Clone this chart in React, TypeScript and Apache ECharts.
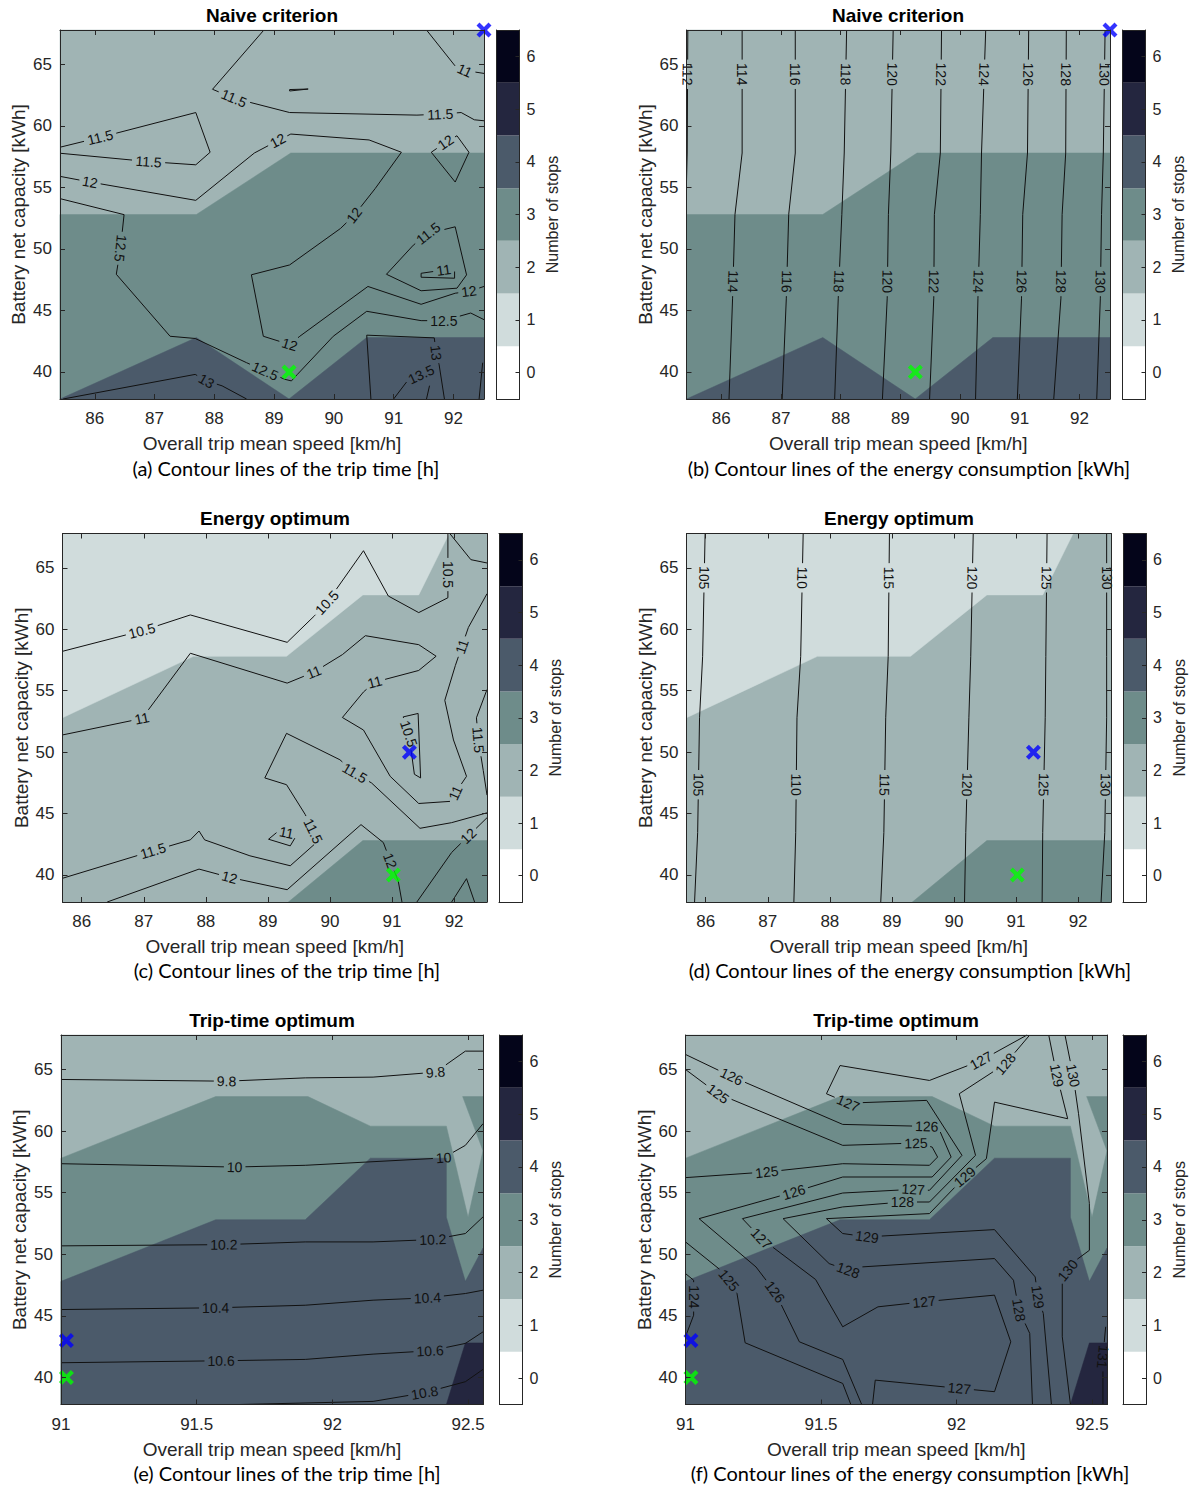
import React, { useEffect, useRef } from "react";
import * as echarts from "echarts";

type Pt = [number, number];
interface Region { stops: number; pts: Pt[] }
interface Contour { level: string; pts: Pt[]; labels: Pt[] }

// ---------- colour scale (number of stops) ----------
const STOP_LEVELS = ["0", "1", "2", "3", "4", "5", "6"];
const STOP_COLORS = ["#ffffff", "#d0dcdc", "#a0b4b4", "#6e8c8a", "#4b5a6a", "#24263f", "#04051a"];

// ---------- axes ----------
const Y_RANGE: Pt = [37.8, 67.8];
const X_RANGE_NAIVE: Pt = [85.418, 92.512];
const X_RANGE_ENERGY: Pt = [85.69, 92.53];
const X_RANGE_TRIP: Pt = [91.0, 92.555];
const X_TICKS_WIDE = [86, 87, 88, 89, 90, 91, 92];
const X_TICKS_TRIP = [91, 91.5, 92, 92.5];
const Y_TICKS = [40, 45, 50, 55, 60, 65];

// ---------- filled regions ----------
const REGIONS_NAIVE: Region[] = [
  { stops: 2, pts: [[85.418, 37.8], [85.418, 67.8], [92.512, 67.8], [92.512, 37.8]] },
  { stops: 3, pts: [[85.418, 37.8], [85.418, 52.8], [87.7, 52.8], [89.28, 57.8], [92.512, 57.8], [92.512, 37.8]] },
  { stops: 4, pts: [[85.418, 37.8], [87.7, 42.8], [89.25, 37.8]] },
  { stops: 4, pts: [[89.25, 37.8], [90.55, 42.8], [92.512, 42.8], [92.512, 37.8]] },
];
const REGIONS_ENERGY: Region[] = [
  { stops: 2, pts: [[85.69, 37.8], [85.69, 67.8], [92.53, 67.8], [92.53, 37.8]] },
  { stops: 1, pts: [[85.69, 67.8], [85.69, 52.8], [87.8, 57.8], [89.3, 57.8], [90.53, 62.8], [91.43, 62.8], [91.92, 67.8]] },
  { stops: 3, pts: [[89.33, 37.8], [90.53, 42.8], [92.53, 42.8], [92.53, 37.8]] },
];
const REGIONS_TRIP: Region[] = [
  { stops: 2, pts: [[91.0, 37.8], [91.0, 67.8], [92.555, 67.8], [92.555, 37.8]] },
  { stops: 3, pts: [[91.0, 37.8], [91.0, 57.8], [91.57, 62.8], [91.91, 62.8], [92.14, 60.4], [92.42, 60.4], [92.5, 53.0], [92.555, 58.4], [92.555, 37.8]] },
  { stops: 3, pts: [[92.48, 62.8], [92.555, 62.8], [92.555, 58.4]] },
  { stops: 4, pts: [[91.0, 37.8], [91.0, 47.8], [91.57, 52.8], [91.9, 52.8], [92.14, 57.8], [92.42, 57.8], [92.42, 53.0], [92.49, 47.8], [92.555, 50.5], [92.555, 37.8]] },
  { stops: 5, pts: [[92.42, 37.8], [92.49, 42.8], [92.555, 42.8], [92.555, 37.8]] },
];

// ---------- contour lines ----------
const CONTOURS_A: Contour[] = [
  { level: "11", pts: [[91.55, 67.8], [92.03, 64.87], [92.19, 64.51], [92.512, 64.27]], labels: [[92.19, 64.51]] },
  { level: "11.5", pts: [[88.83, 67.8], [87.97, 62.98], [88.33, 62.25], [89.26, 61.09], [91.39, 60.88], [91.78, 60.96], [92.13, 61.09], [92.35, 60.5], [92.512, 60.42]], labels: [[88.33, 62.25], [91.78, 60.96]] },
  { level: "11.5", pts: [[85.418, 58.27], [86.09, 59.07], [87.69, 61.09], [87.93, 57.86], [87.69, 56.84], [86.9, 57.1], [85.418, 57.78]], labels: [[86.09, 59.07], [86.9, 57.1]] },
  { level: "11.5", pts: [[89.26, 62.96], [89.57, 63.0], [89.26, 62.84], [89.26, 62.96]], labels: [] },
  { level: "12", pts: [[85.418, 55.9], [85.92, 55.44], [87.69, 53.95], [88.67, 57.8], [89.06, 58.8], [89.28, 59.34], [90.59, 58.86], [91.13, 57.86], [90.69, 54.9], [90.34, 52.74], [90.11, 51.66], [89.26, 48.7], [88.62, 47.9], [88.82, 42.9], [89.26, 42.23], [89.43, 42.9], [90.57, 46.95], [91.46, 45.5], [92.03, 46.4], [92.26, 46.55], [92.512, 46.95]], labels: [[85.92, 55.44], [89.06, 58.8], [90.34, 52.74], [89.26, 42.23], [92.26, 46.55]] },
  { level: "12", pts: [[91.63, 57.86], [91.87, 58.67], [92.06, 59.2], [92.26, 57.86], [92.03, 55.44], [91.63, 57.86]], labels: [[91.87, 58.67]] },
  { level: "11.5", pts: [[90.88, 47.94], [91.33, 50.31], [91.58, 51.26], [92.03, 51.8], [92.22, 47.89], [92.06, 46.81], [91.46, 46.6], [90.88, 47.94]], labels: [[91.58, 51.26]] },
  { level: "11", pts: [[91.46, 48.02], [91.84, 48.29], [92.02, 48.16], [92.02, 47.62], [91.46, 47.7], [91.46, 48.02]], labels: [[91.84, 48.29]] },
  { level: "12.5", pts: [[85.418, 54.09], [86.49, 52.79], [86.43, 50.05], [86.36, 47.94], [87.26, 42.9], [87.68, 42.72], [88.54, 40.75], [88.85, 40.08], [89.18, 39.4], [89.29, 39.27], [89.39, 39.8], [89.99, 42.9], [90.55, 44.93], [91.46, 44.17], [91.84, 44.17], [92.29, 44.79], [92.512, 44.25]], labels: [[86.43, 50.05], [88.85, 40.08], [91.84, 44.17]] },
  { level: "13", pts: [[85.47, 37.8], [87.68, 39.8], [87.87, 39.27], [88.13, 38.87], [88.54, 37.8]], labels: [[87.87, 39.27]] },
  { level: "13", pts: [[90.62, 37.8], [90.55, 42.99], [91.68, 42.77], [91.71, 41.56], [91.76, 40.62], [91.85, 37.8]], labels: [[91.71, 41.56]] },
  { level: "13.5", pts: [[91.0, 37.8], [91.23, 39.27], [91.46, 39.8], [91.62, 39.3], [91.55, 37.8]], labels: [[91.46, 39.8]] },
  { level: "14", pts: [[92.49, 40.75], [92.43, 37.8]], labels: [] },
];

const B_KNOTS_Y = [67.8, 57.8, 52.8, 46.0, 37.8];
const B_LABEL_Y = [64.2, 47.35];
const B_LEVELS = ["114", "116", "118", "120", "122", "124", "126", "128", "130"];
const B_X = [
  [86.35, 86.35, 86.23, 86.19, 86.13],
  [87.24, 87.24, 87.13, 87.09, 87.02],
  [88.1, 88.06, 88.02, 87.96, 87.9],
  [88.88, 88.84, 88.8, 88.78, 88.7],
  [89.69, 89.67, 89.57, 89.56, 89.49],
  [90.43, 90.36, 90.34, 90.3, 90.26],
  [91.15, 91.13, 91.05, 91.03, 90.96],
  [91.78, 91.77, 91.71, 91.69, 91.57],
  [92.43, 92.4, 92.37, 92.35, 92.29],
];
const B_EDGE_112: Contour = { level: "112", pts: [[85.44, 67.8], [85.43, 57.8], [85.418, 55.5]], labels: [[85.44, 64.2]] };

const CONTOURS_C: Contour[] = [
  { level: "10.5", pts: [[85.69, 58.21], [86.97, 59.88], [87.75, 61.17], [89.31, 58.94], [89.75, 61.1], [89.95, 62.17], [90.54, 66.4], [90.94, 62.71], [91.43, 61.36], [91.9, 62.57], [91.9, 64.46], [91.9, 67.8]], labels: [[86.97, 59.88], [89.95, 62.17], [91.9, 64.46]] },
  { level: "10.5", pts: [[91.93, 67.8], [92.27, 65.67], [92.53, 65.4]], labels: [] },
  { level: "11", pts: [[85.69, 51.4], [86.97, 52.74], [87.75, 58.05], [89.31, 55.62], [89.74, 56.51], [90.2, 57.94], [90.57, 59.48], [91.43, 58.75], [91.71, 57.81], [91.43, 56.65], [90.72, 55.7], [90.54, 54.9], [90.2, 52.82], [90.54, 51.8], [90.97, 48.03], [91.43, 45.82], [91.96, 46.0], [92.02, 46.68], [92.2, 48.03], [91.99, 50.99], [91.85, 54.22], [92.02, 57.05], [92.23, 60.15], [92.53, 62.9]], labels: [[86.97, 52.74], [89.74, 56.51], [90.72, 55.7], [92.02, 46.68], [92.12, 58.6]] },
  { level: "10.5", pts: [[91.18, 52.87], [91.27, 51.5], [91.36, 48.2], [91.46, 47.9], [91.42, 53.15], [91.18, 52.87]], labels: [[91.27, 51.5]] },
  { level: "11.5", pts: [[92.53, 45.06], [91.96, 44.26], [91.45, 43.8], [90.67, 47.49], [90.4, 48.3], [90.16, 49.38], [89.3, 51.53], [88.95, 47.9], [89.3, 47.35], [89.6, 44.93], [89.73, 43.58], [89.81, 42.77], [89.36, 40.75], [88.71, 41.56], [87.98, 42.86], [87.89, 43.58], [87.75, 42.86], [87.15, 41.97], [85.69, 39.73]], labels: [[90.4, 48.3], [89.73, 43.58], [87.15, 41.97]] },
  { level: "11", pts: [[89.01, 42.91], [89.17, 43.58], [89.3, 43.45], [89.44, 43.05], [89.36, 42.37], [89.01, 42.91]], labels: [[89.3, 43.45]] },
  { level: "12", pts: [[86.41, 37.8], [87.89, 40.48], [88.38, 39.81], [89.31, 38.8], [90.5, 44.1], [90.86, 42.64], [90.97, 41.16], [91.1, 39.5], [91.16, 37.8]], labels: [[88.38, 39.81], [90.97, 41.16]] },
  { level: "12", pts: [[91.4, 37.8], [91.96, 41.83], [92.23, 43.18], [92.53, 44.66]], labels: [[92.23, 43.18]] },
  { level: "12.5", pts: [[91.96, 37.8], [92.2, 39.7], [92.33, 37.8]], labels: [] },
  { level: "11.5", pts: [[92.53, 55.1], [92.36, 52.8], [92.39, 51.0], [92.47, 48.5], [92.53, 46.5]], labels: [[92.39, 51.0]] },
];

const D_KNOTS_Y = [67.8, 57.8, 52.8, 43.45, 37.8];
const D_LABEL_Y = [64.19, 47.35];
const D_LEVELS = ["105", "110", "115", "120", "125", "130"];
const D_X = [
  [85.99, 85.95, 85.9, 85.87, 85.82],
  [87.57, 87.53, 87.47, 87.45, 87.42],
  [88.96, 88.94, 88.9, 88.87, 88.82],
  [90.31, 90.27, 90.24, 90.19, 90.17],
  [91.5, 91.48, 91.47, 91.43, 91.42],
  [92.46, 92.46, 92.46, 92.43, 92.37],
];

const CONTOURS_E: Contour[] = [
  { level: "9.8", pts: [[91.0, 64.19], [91.61, 64.05], [91.9, 64.32], [92.15, 64.38], [92.38, 64.78], [92.49, 66.49], [92.555, 66.49]], labels: [[91.61, 64.05], [92.38, 64.78]] },
  { level: "10", pts: [[91.0, 57.35], [91.64, 57.08], [91.9, 57.22], [92.36, 57.76], [92.41, 57.84], [92.49, 58.84], [92.555, 60.6]], labels: [[91.64, 57.08], [92.41, 57.84]] },
  { level: "10.2", pts: [[91.0, 50.68], [91.6, 50.78], [91.9, 51.0], [92.15, 51.0], [92.37, 51.19], [92.49, 51.68], [92.555, 53.03]], labels: [[91.6, 50.78], [92.37, 51.19]] },
  { level: "10.4", pts: [[91.0, 45.51], [91.57, 45.65], [91.9, 45.86], [92.15, 46.27], [92.35, 46.46], [92.49, 46.81], [92.555, 47.08]], labels: [[91.57, 45.65], [92.35, 46.46]] },
  { level: "10.6", pts: [[91.0, 41.19], [91.59, 41.35], [91.9, 41.46], [92.15, 41.89], [92.36, 42.16], [92.49, 42.76], [92.555, 43.7]], labels: [[91.59, 41.35], [92.36, 42.16]] },
  { level: "10.8", pts: [[91.66, 37.8], [92.15, 38.05], [92.34, 38.76], [92.49, 39.65], [92.555, 40.65]], labels: [[92.34, 38.76]] },
];

const CONTOURS_F: Contour[] = [
  { level: "125", pts: [[91.0, 65.0], [91.12, 63.03], [91.58, 58.84], [91.85, 59.03], [91.91, 58.7], [91.93, 57.89], [91.9, 57.22], [91.58, 57.35], [91.3, 56.68], [91.0, 56.22]], labels: [[91.12, 63.03], [91.85, 59.03], [91.3, 56.68]] },
  { level: "126", pts: [[91.0, 66.22], [91.17, 64.43], [91.58, 60.54], [91.89, 60.38], [91.94, 59.92], [91.98, 57.89], [91.91, 56.27], [91.58, 56.27], [91.4, 55.05], [91.05, 52.89], [91.26, 48.97], [91.33, 46.95], [91.42, 42.89], [91.58, 41.46], [91.65, 37.8]], labels: [[91.17, 64.43], [91.89, 60.38], [91.4, 55.05], [91.33, 46.95]] },
  { level: "125", pts: [[91.0, 51.0], [91.13, 48.7], [91.16, 47.89], [91.19, 46.81], [91.22, 42.81], [91.58, 39.51], [91.61, 37.8]], labels: [[91.16, 47.89]] },
  { level: "124", pts: [[91.0, 48.43], [91.03, 47.89], [91.03, 46.54], [91.03, 45.05], [91.0, 43.3]], labels: [[91.03, 46.54]] },
  { level: "127", pts: [[92.26, 67.8], [92.09, 65.73], [91.9, 64.11], [91.57, 65.32], [91.52, 63.03], [91.6, 62.27], [91.89, 62.49], [92.02, 58.03], [91.9, 55.19], [91.84, 55.27], [91.58, 54.97], [91.21, 52.89], [91.28, 51.27], [91.48, 47.95], [91.58, 44.11], [91.71, 45.73], [91.88, 46.14], [92.14, 46.68], [92.2, 42.89], [92.14, 38.84], [92.01, 39.11], [91.95, 39.24], [91.7, 39.78], [91.69, 37.8]], labels: [[92.09, 65.73], [91.6, 62.27], [91.84, 55.27], [91.28, 51.27], [91.88, 46.14], [92.01, 39.11]] },
  { level: "128", pts: [[92.27, 67.8], [92.18, 65.46], [92.01, 63.03], [92.07, 58.03], [91.9, 54.24], [91.8, 54.24], [91.58, 53.84], [91.36, 52.89], [91.53, 49.24], [91.6, 48.7], [91.65, 48.97], [92.14, 49.65], [92.21, 47.89], [92.23, 45.46], [92.27, 43.57], [92.28, 37.8]], labels: [[92.18, 65.46], [91.8, 54.24], [91.6, 48.7], [92.23, 45.46]] },
  { level: "129", pts: [[92.34, 67.8], [92.37, 64.51], [92.41, 61.0], [92.14, 62.35], [92.11, 57.76], [92.03, 56.27], [91.9, 53.3], [91.52, 52.89], [91.58, 51.68], [91.67, 51.41], [92.14, 52.0], [92.29, 48.16], [92.3, 46.54], [92.32, 45.19], [92.35, 37.8]], labels: [[92.37, 64.51], [92.03, 56.27], [91.67, 51.41], [92.3, 46.54]] },
  { level: "130", pts: [[92.4, 67.8], [92.43, 64.51], [92.45, 61.41], [92.49, 54.11], [92.49, 50.32], [92.44, 49.51], [92.41, 48.7], [92.39, 47.76], [92.39, 43.3], [92.42, 37.8]], labels: [[92.43, 64.51], [92.41, 48.7]] },
  { level: "131", pts: [[92.55, 44.11], [92.54, 41.68], [92.54, 37.8]], labels: [[92.54, 41.68]] },
];

// ---------- optimum markers ----------
const MARK_BLUE_NAIVE: Pt = [92.512, 67.8];
const MARK_GREEN_NAIVE: Pt = [89.25, 40.0];
const MARK_BLUE_ENERGY: Pt = [91.28, 50.0];
const MARK_GREEN_ENERGY: Pt = [91.02, 40.0];
const MARK_BLUE_TRIP: Pt = [91.02, 43.0];
const MARK_GREEN_TRIP: Pt = [91.02, 40.0];

// ---------- texts ----------
const TITLES = ["Naive criterion", "Naive criterion", "Energy optimum", "Energy optimum", "Trip-time optimum", "Trip-time optimum"];
const CAPTIONS = [
  "(a) Contour lines of the trip time [h]",
  "(b) Contour lines of the energy consumption [kWh]",
  "(c) Contour lines of the trip time [h]",
  "(d) Contour lines of the energy consumption [kWh]",
  "(e) Contour lines of the trip time [h]",
  "(f) Contour lines of the energy consumption [kWh]",
];
const X_NAME = "Overall trip mean speed [km/h]";
const Y_NAME = "Battery net capacity [kWh]";
const CBAR_NAME = "Number of stops";

function buildVertical(levels: string[], xs: number[][], knots: number[], labelY: number[]): Contour[] {
  return levels.map((lv, i) => ({
    level: lv,
    pts: knots.map((y, k) => [xs[i][k], y] as Pt),
    labels: [[xs[i][0], labelY[0]] as Pt, [xs[i][2], labelY[1]] as Pt],
  }));
}

const CONTOURS_B: Contour[] = [B_EDGE_112, ...buildVertical(B_LEVELS, B_X, B_KNOTS_Y, B_LABEL_Y)];
const CONTOURS_D: Contour[] = buildVertical(D_LEVELS, D_X, D_KNOTS_Y, D_LABEL_Y);

// ---------- layout (pixels) ----------
const LAYOUT = [
  { grid: { left: 60, top: 30, width: 424, height: 369 }, cbar: { left: 496.5, width: 23 }, title: [272, 15], caption: [286, 468] },
  { grid: { left: 686.5, top: 30, width: 423.5, height: 369 }, cbar: { left: 1122.5, width: 23 }, title: [898, 15], caption: [909, 468] },
  { grid: { left: 62.5, top: 533.5, width: 424.5, height: 368.5 }, cbar: { left: 499, width: 23.5 }, title: [275, 518], caption: [287, 970] },
  { grid: { left: 686.5, top: 533.5, width: 424.5, height: 368.5 }, cbar: { left: 1123, width: 23 }, title: [899, 518], caption: [910, 970] },
  { grid: { left: 61, top: 1035, width: 422, height: 369.5 }, cbar: { left: 499.5, width: 23 }, title: [272, 1020], caption: [287, 1473] },
  { grid: { left: 685.5, top: 1035, width: 421.5, height: 369.5 }, cbar: { left: 1123, width: 23 }, title: [896, 1020], caption: [910, 1473] },
];

const FONT = '"Liberation Sans", Arial, Helvetica, sans-serif';
const CAPTION_FONT = 'Lato, "Open Sans", sans-serif';
const AXIS_COLOR = "#262626";
const LABEL_FS = 14;
const X_SYMBOL = "path://M0,2L2,0L5,3L8,0L10,2L7,5L10,8L8,10L5,7L2,10L0,8L3,5Z";
const DEG = Math.PI / 180;

const textWidth = (s: string, fs: number) =>
  s.split("").reduce((w, ch) => w + (ch === "." ? 0.278 : 0.556), 0) * fs;

function fillSeries(axisIdx: number, regions: Region[]) {
  return {
    type: "custom",
    coordinateSystem: "cartesian2d",
    xAxisIndex: axisIdx,
    yAxisIndex: axisIdx,
    silent: true,
    z: 1,
    data: regions.map((r) => r.pts[0]),
    renderItem: (params: any, api: any) => {
      const r = regions[params.dataIndex];
      const col = STOP_COLORS[r.stops];
      return {
        type: "polygon",
        z2: params.dataIndex,
        shape: { points: r.pts.map((p) => api.coord(p)) },
        style: { fill: col, stroke: col, lineWidth: 0.5 },
      };
    },
  };
}

function contourSeries(axisIdx: number, contours: Contour[]) {
  return {
    type: "custom",
    coordinateSystem: "cartesian2d",
    xAxisIndex: axisIdx,
    yAxisIndex: axisIdx,
    silent: true,
    z: 3,
    data: contours.map((c) => c.pts[0]),
    renderItem: (params: any, api: any) => {
      const c = contours[params.dataIndex];
      const pix: number[][] = c.pts.map((p) => api.coord(p));
      const cum = [0];
      for (let i = 1; i < pix.length; i++) {
        cum.push(cum[i - 1] + Math.hypot(pix[i][0] - pix[i - 1][0], pix[i][1] - pix[i - 1][1]));
      }
      const total = cum[cum.length - 1];
      const tw = textWidth(c.level, LABEL_FS);
      const gaps: number[][] = [];
      const texts: any[] = [];
      c.labels.forEach((lp) => {
        const q = api.coord(lp);
        let best = { d: Infinity, s: 0, x: 0, y: 0, ang: 0 };
        for (let i = 0; i < pix.length - 1; i++) {
          const ax = pix[i][0], ay = pix[i][1];
          const dx = pix[i + 1][0] - ax, dy = pix[i + 1][1] - ay;
          const L2 = dx * dx + dy * dy;
          if (L2 === 0) continue;
          let t = ((q[0] - ax) * dx + (q[1] - ay) * dy) / L2;
          t = Math.max(0, Math.min(1, t));
          const px = ax + t * dx, py = ay + t * dy;
          const d = Math.hypot(q[0] - px, q[1] - py);
          if (d < best.d) best = { d, s: cum[i] + t * Math.sqrt(L2), x: px, y: py, ang: Math.atan2(dy, dx) };
        }
        // keep the text readable; near-vertical labels read downwards
        let a = best.ang;
        if (a >= 105 * DEG) a -= Math.PI;
        else if (a < -75 * DEG) a += Math.PI;
        gaps.push([best.s - tw / 2 - 3, best.s + tw / 2 + 3]);
        texts.push({
          type: "text",
          x: best.x,
          y: best.y,
          rotation: -a,
          z2: 20,
          style: {
            text: c.level,
            fill: "#111111",
            fontSize: LABEL_FS,
            fontFamily: FONT,
            align: "center",
            verticalAlign: "middle",
          },
        });
      });
      gaps.sort((g1, g2) => g1[0] - g2[0]);
      const keep: number[][] = [];
      let cur = 0;
      gaps.forEach((g) => {
        if (g[0] > cur) keep.push([cur, g[0]]);
        cur = Math.max(cur, g[1]);
      });
      if (cur < total) keep.push([cur, total]);
      const at = (s: number) => {
        if (s <= 0) return pix[0];
        if (s >= total) return pix[pix.length - 1];
        let i = 0;
        while (i < cum.length - 2 && cum[i + 1] < s) i++;
        const seg = cum[i + 1] - cum[i];
        const t = seg > 0 ? (s - cum[i]) / seg : 0;
        return [pix[i][0] + t * (pix[i + 1][0] - pix[i][0]), pix[i][1] + t * (pix[i + 1][1] - pix[i][1])];
      };
      const lines = keep
        .filter(([a, b]) => b - a > 0.5)
        .map(([a, b]) => {
          const pts = [at(a)];
          for (let i = 0; i < pix.length; i++) if (cum[i] > a && cum[i] < b) pts.push(pix[i]);
          pts.push(at(b));
          return {
            type: "polyline",
            z2: 10,
            shape: { points: pts },
            style: { stroke: "#111111", lineWidth: 1, fill: "none" },
          };
        });
      return { type: "group", children: [...lines, ...texts] };
    },
  };
}

const PANELS = [
  { xRange: X_RANGE_NAIVE, xTicks: X_TICKS_WIDE, regions: REGIONS_NAIVE, contours: CONTOURS_A, blue: MARK_BLUE_NAIVE, green: MARK_GREEN_NAIVE },
  { xRange: X_RANGE_NAIVE, xTicks: X_TICKS_WIDE, regions: REGIONS_NAIVE, contours: CONTOURS_B, blue: MARK_BLUE_NAIVE, green: MARK_GREEN_NAIVE },
  { xRange: X_RANGE_ENERGY, xTicks: X_TICKS_WIDE, regions: REGIONS_ENERGY, contours: CONTOURS_C, blue: MARK_BLUE_ENERGY, green: MARK_GREEN_ENERGY },
  { xRange: X_RANGE_ENERGY, xTicks: X_TICKS_WIDE, regions: REGIONS_ENERGY, contours: CONTOURS_D, blue: MARK_BLUE_ENERGY, green: MARK_GREEN_ENERGY },
  { xRange: X_RANGE_TRIP, xTicks: X_TICKS_TRIP, regions: REGIONS_TRIP, contours: CONTOURS_E, blue: MARK_BLUE_TRIP, green: MARK_GREEN_TRIP },
  { xRange: X_RANGE_TRIP, xTicks: X_TICKS_TRIP, regions: REGIONS_TRIP, contours: CONTOURS_F, blue: MARK_BLUE_TRIP, green: MARK_GREEN_TRIP },
];

function buildOption() {
  const grids: any[] = [];
  const xAxes: any[] = [];
  const yAxes: any[] = [];
  const series: any[] = [];
  const graphics: any[] = [];
  const lineStyle = { color: AXIS_COLOR, width: 1 };
  const labelStyle = { color: AXIS_COLOR, fontSize: 17, fontFamily: FONT };

  PANELS.forEach((p, i) => {
    const L = LAYOUT[i];
    const g = i;
    grids.push({ ...L.grid, containLabel: false, outerBoundsMode: "none" });
    const baseX = {
      gridIndex: g, type: "value", min: p.xRange[0], max: p.xRange[1], z: 10,
      splitLine: { show: false },
      axisLine: { show: true, onZero: false, lineStyle },
      axisTick: { show: true, inside: true, length: 5, customValues: p.xTicks, lineStyle },
    };
    xAxes.push({
      ...baseX, position: "bottom",
      axisLabel: { show: true, customValues: p.xTicks, margin: 11, ...labelStyle },
      name: X_NAME, nameLocation: "middle", nameGap: 35, nameMoveOverlap: false,
      nameTextStyle: { color: AXIS_COLOR, fontSize: 19, fontFamily: FONT },
    });
    xAxes.push({ ...baseX, position: "top", axisLabel: { show: false, customValues: p.xTicks } });
    const baseY = {
      gridIndex: g, type: "value", min: Y_RANGE[0], max: Y_RANGE[1], z: 10,
      splitLine: { show: false },
      axisLine: { show: true, onZero: false, lineStyle },
      axisTick: { show: true, inside: true, length: 5, customValues: Y_TICKS, lineStyle },
    };
    yAxes.push({
      ...baseY, position: "left",
      axisLabel: { show: true, customValues: Y_TICKS, margin: 8, ...labelStyle },
      name: Y_NAME, nameLocation: "middle", nameGap: 32, nameMoveOverlap: false,
      nameTextStyle: { color: AXIS_COLOR, fontSize: 19, fontFamily: FONT },
    });
    yAxes.push({ ...baseY, position: "right", axisLabel: { show: false, customValues: Y_TICKS } });

    series.push(fillSeries(2 * g, p.regions));
    series.push(contourSeries(2 * g, p.contours));
    series.push({
      type: "scatter", xAxisIndex: 2 * g, yAxisIndex: 2 * g, silent: true, clip: false, z: 6,
      symbol: X_SYMBOL, symbolSize: 15,
      data: [
        { value: p.blue, itemStyle: { color: "#0000ff" } },
        { value: p.green, itemStyle: { color: "#00ff00" } },
      ],
    });

    graphics.push({
      type: "text", x: L.title[0], y: L.title[1],
      style: { text: TITLES[i], fill: "#000", fontSize: 19, fontWeight: "bold", fontFamily: FONT, align: "center", verticalAlign: "middle", textAlign: "center", textVerticalAlign: "middle" },
    });
    graphics.push({
      type: "text", x: L.caption[0], y: L.caption[1],
      style: { text: CAPTIONS[i], fill: "#000", fontSize: 20, fontFamily: CAPTION_FONT, align: "center", verticalAlign: "middle", textAlign: "center", textVerticalAlign: "middle" },
    });
  });

  PANELS.forEach((_, i) => {
    const L = LAYOUT[i];
    const g = 6 + i;
    grids.push({ left: L.cbar.left, width: L.cbar.width, top: L.grid.top, height: L.grid.height, containLabel: false, outerBoundsMode: "none" });
    const cx = {
      gridIndex: g, type: "value", min: 0, max: 1, z: 10,
      splitLine: { show: false }, axisTick: { show: false }, axisLabel: { show: false },
      axisLine: { show: true, onZero: false, lineStyle },
    };
    xAxes.push({ ...cx, position: "bottom" });
    xAxes.push({ ...cx, position: "top" });
    yAxes.push({
      gridIndex: g, type: "category", data: STOP_LEVELS, position: "left", z: 10,
      axisLine: { show: true, onZero: false, lineStyle }, axisTick: { show: false }, axisLabel: { show: false },
      splitLine: { show: false },
    });
    yAxes.push({
      gridIndex: g, type: "category", data: STOP_LEVELS, position: "right", z: 10,
      axisLine: { show: true, onZero: false, lineStyle },
      axisTick: { show: true, inside: true, alignWithLabel: true, length: 4, lineStyle },
      axisLabel: { show: true, margin: 7, color: AXIS_COLOR, fontSize: 16, fontFamily: FONT },
      splitLine: { show: false },
      name: CBAR_NAME, nameLocation: "middle", nameGap: 25, nameRotate: 90, nameMoveOverlap: false,
      nameTextStyle: { color: AXIS_COLOR, fontSize: 16, fontFamily: FONT },
    });
    series.push({
      type: "bar", xAxisIndex: 2 * g, yAxisIndex: 2 * g, silent: true, barWidth: "100%", z: 2,
      data: STOP_COLORS.map((c) => ({ value: 1, itemStyle: { color: c } })),
    });
  });

  return {
    animation: false,
    backgroundColor: "#ffffff",
    grid: grids,
    xAxis: xAxes,
    yAxis: yAxes,
    series,
    graphic: graphics,
  };
}

export default function App() {
  const ref = useRef<HTMLDivElement>(null);
  useEffect(() => {
    if (!ref.current) return;
    const chart = echarts.init(ref.current, undefined, { renderer: "svg" });
    chart.setOption(buildOption() as any);
    return () => chart.dispose();
  }, []);
  return (
    <div
      ref={ref}
      style={{ position: "absolute", left: 0, top: 0, width: 1193, height: 1485, background: "#fff" }}
    />
  );
}
